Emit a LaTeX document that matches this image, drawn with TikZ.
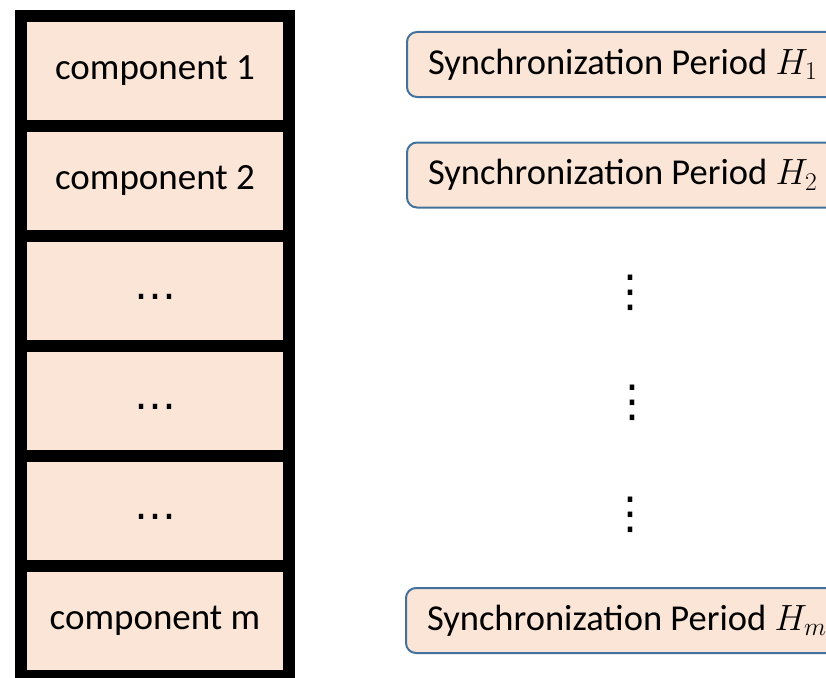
\RequirePackage{fix-cm}
\documentclass[tikz,border=0pt]{standalone}
\usepackage{fontspec}
\setmainfont{Carlito}
\newfontfamily\symfont{DejaVu Sans}
\usetikzlibrary{positioning}
\definecolor{peach}{HTML}{FBE5D6}
\definecolor{frameblue}{HTML}{41719C}
\tikzset{
  cell/.style={draw=black, line width=12pt, fill=peach, minimum width=268pt,
    minimum height=110pt, outer sep=0pt, inner sep=0pt, text height=23pt,
    text depth=7pt, font=\fontsize{37}{42}\selectfont},
  period/.style={draw=frameblue, line width=2pt, fill=peach, rounded corners=10pt,
    minimum height=65pt, inner xsep=21pt, inner ysep=0pt, anchor=west,
    font=\fontsize{36.5}{42}\selectfont},
  vdot/.style={inner sep=0pt, font=\symfont\fontsize{44}{44}\selectfont}
}
\newcommand\hdots{{\symfont\fontsize{42}{42}\selectfont …}}
\begin{document}
\begin{tikzpicture}[x=1pt,y=-1pt]
          \clip (0,0) rectangle (826,677);
          \node (comp1) [cell] at (155,71) {component 1};
          \node (comp2) [cell, below=0pt of comp1] {component 2};
          \node (dots1) [cell, below=0pt of comp2] {\hdots};
          \node (dots2) [cell, below=0pt of dots1] {\hdots};
          \node (dots3) [cell, below=0pt of dots2] {\hdots};
          \node (compm) [cell, below=0pt of dots3] {component m};

          \node (sync1) [period] at (406,64.5)  {Synchronization Period $H_1$};
          \node (sync2) [period] at (406,175)   {Synchronization Period $H_2$};
          \node (syncm) [period] at (405,620.5) {Synchronization Period $H_m$};

          \node (vd1) [vdot] at (630,293) {⋮};
          \node (vd2) [vdot] at (632,403) {⋮};
          \node (vd3) [vdot] at (630,515) {⋮};
        \end{tikzpicture}
\end{document}
